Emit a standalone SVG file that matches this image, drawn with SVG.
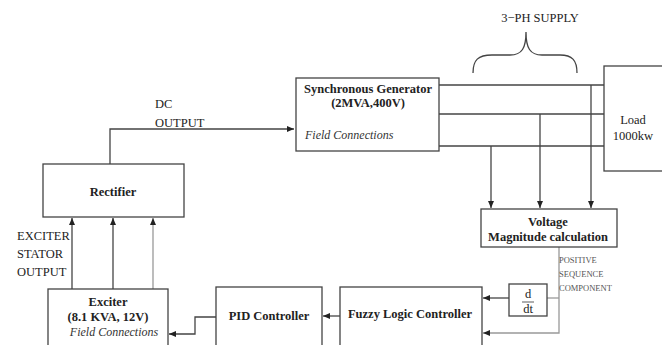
<svg xmlns="http://www.w3.org/2000/svg" width="662" height="345" viewBox="0 0 662 345">
<defs>
<marker id="ah" markerWidth="8" markerHeight="8" refX="7" refY="4" orient="auto" markerUnits="userSpaceOnUse">
<path d="M0,1 L7,4 L0,7 Z" fill="#222"/>
</marker>
<style>
.box{fill:#fff;stroke:#444;stroke-width:1.3}
.ln{fill:none;stroke:#444;stroke-width:1.3}
.lt{fill:none;stroke:#999;stroke-width:1.3}
.b{font-family:"Liberation Serif",serif;font-weight:bold;font-size:12.5px;fill:#222;text-anchor:middle}
.r{font-family:"Liberation Serif",serif;font-size:12.5px;fill:#222}
.i{font-family:"Liberation Serif",serif;font-style:italic;font-size:12px;fill:#333}
.s{font-family:"Liberation Serif",serif;font-size:8.5px;fill:#555}
</style>
</defs>
<rect width="662" height="345" fill="#fff"/>

<g id="connectors">
<polyline class="ln" points="110,164 110,129 294,129" marker-end="url(#ah)"/>
<line class="ln" x1="439" y1="85" x2="604" y2="85"/>
<line class="ln" x1="439" y1="114" x2="604" y2="114"/>
<line class="ln" x1="439" y1="146" x2="604" y2="146"/>
<line class="ln" x1="591" y1="85" x2="591" y2="208" marker-end="url(#ah)"/>
<line class="ln" x1="540" y1="114" x2="540" y2="208" marker-end="url(#ah)"/>
<line class="ln" x1="491" y1="146" x2="491" y2="208" marker-end="url(#ah)"/>
<polyline class="lt" points="559,247 559,333 483,333" marker-end="url(#ah)"/>
<line class="lt" x1="559" y1="298" x2="547" y2="298"/>
<line class="ln" x1="509" y1="298" x2="483" y2="298" marker-end="url(#ah)"/>
<line class="ln" x1="340" y1="316" x2="323" y2="316" marker-end="url(#ah)"/>
<polyline class="ln" points="216,317 195,317 195,334 169,334" marker-end="url(#ah)"/>
<line class="ln" x1="72" y1="289" x2="72" y2="218" marker-end="url(#ah)"/>
<line class="ln" x1="113" y1="289" x2="113" y2="218" marker-end="url(#ah)"/>
<line class="lt" x1="153" y1="289" x2="153" y2="218" marker-end="url(#ah)"/>
<path class="ln" d="M473,73 C473,60 478,55 492,55 L510,55 C522,55 526,48 526,32 C526,48 530,55 542,55 L560,55 C572,55 577,60 577,73"/>
</g>

<g id="gen">
<rect class="box" x="296" y="78" width="143" height="73"/>
<text class="b" x="368" y="93">Synchronous Generator</text>
<text class="b" x="368" y="107">(2MVA,400V)</text>
<text class="i" x="305" y="139">Field Connections</text>
</g>

<g id="load">
<rect class="box" x="604" y="66" width="70" height="105"/>
<text class="r" x="633" y="124" text-anchor="middle" font-size="13">Load</text>
<text class="r" x="633" y="140" text-anchor="middle" font-size="13">1000kw</text>
</g>

<g id="supply">
<text class="r" x="540" y="22" text-anchor="middle" font-size="13.5">3−PH SUPPLY</text>
</g>

<g id="voltage">
<rect class="box" x="481" y="209" width="136" height="38"/>
<text class="b" x="548" y="226">Voltage</text>
<text class="b" x="548" y="241">Magnitude calculation</text>
</g>

<g id="possec">
<text class="s" x="559" y="263">POSITIVE</text>
<text class="s" x="559" y="277">SEQUENCE</text>
<text class="s" x="559" y="291">COMPONENT</text>
</g>

<g id="ddt">
<rect class="box" x="509" y="284" width="38" height="32"/>
<text class="r" x="528" y="298" text-anchor="middle">d</text>
<line x1="522" y1="302" x2="534" y2="302" stroke="#333" stroke-width="0.8"/>
<text class="r" x="528" y="313" text-anchor="middle">dt</text>
</g>

<g id="fuzzy">
<rect class="box" x="340" y="287" width="142" height="70"/>
<text class="b" x="410" y="318">Fuzzy Logic Controller</text>
</g>

<g id="pid">
<rect class="box" x="216" y="287" width="106" height="70"/>
<text class="b" x="269" y="320">PID Controller</text>
</g>

<g id="exciter">
<rect class="box" x="48" y="289" width="120" height="65"/>
<text class="b" x="108" y="306">Exciter</text>
<text class="b" x="108" y="321">(8.1 KVA, 12V)</text>
<text class="i" x="114" y="336" text-anchor="middle">Field Connections</text>
</g>

<g id="rectifier">
<rect class="box" x="43" y="164" width="141" height="53"/>
<text class="b" x="113" y="196">Rectifier</text>
</g>

<g id="labels">
<text class="r" x="155" y="108">DC</text>
<text class="r" x="155" y="127">OUTPUT</text>
<text class="r" x="17" y="240">EXCITER</text>
<text class="r" x="17" y="258">STATOR</text>
<text class="r" x="17" y="276">OUTPUT</text>
</g>
</svg>
